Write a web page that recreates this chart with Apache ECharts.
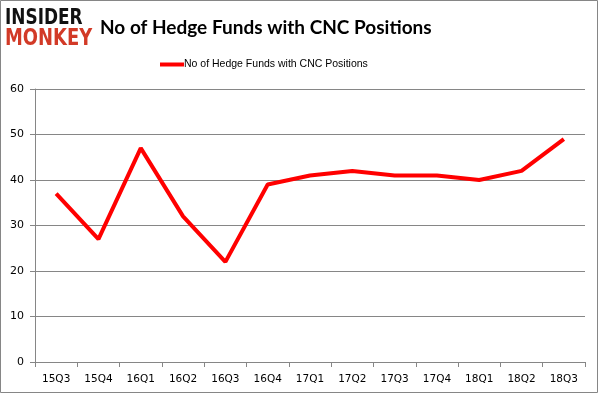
<!DOCTYPE html>
<html><head><meta charset="utf-8">
<script src="https://cdn.jsdelivr.net/npm/echarts@6/dist/echarts.min.js"></script>
<style>html,body{margin:0;padding:0;background:#fff;}#c{width:601px;height:395px;}</style>
</head><body><div id="c"></div>
<script>
const categories = ['15Q3','15Q4','16Q1','16Q2','16Q3','16Q4','17Q1','17Q2','17Q3','17Q4','18Q1','18Q2','18Q3'];
const hedgeFunds = [37, 27, 47, 32, 22, 39, 41, 42, 41, 41, 40, 42, 49];
const seriesName = 'No of Hedge Funds with CNC Positions';
const titleText = 'No of Hedge Funds with CNC Positions';

const chart = echarts.init(document.getElementById('c'), null, {renderer: 'canvas'});
chart.setOption({
  animation: false,
  backgroundColor: '#fff',
  title: {
    text: titleText, left: 95, top: 13,
    textStyle: {fontFamily: 'Lato', fontWeight: 'bold', fontSize: 19, color: '#000'}
  },
  legend: {
    data: [seriesName], top: 54, left: 155,
    itemWidth: 24, itemHeight: 4, itemGap: 0,
    icon: 'rect',
    textStyle: {fontFamily: 'Liberation Sans', fontSize: 10.5, color: '#000', padding: [0,0,0,-5]}
  },
  grid: {left: 35, right: 16, top: 89, bottom: 33, containLabel: false},
  xAxis: {
    type: 'category', data: categories, boundaryGap: true,
    axisLine: {lineStyle: {color: '#868686', width: 1}},
    axisTick: {show: true, length: 5, lineStyle: {color: '#868686'}},
    axisLabel: {fontFamily: 'DejaVu Sans', fontSize: 10.5, color: '#000', margin: 12}
  },
  yAxis: {
    type: 'value', min: 0, max: 60, interval: 10,
    axisLine: {show: true, lineStyle: {color: '#868686'}},
    axisTick: {show: true, length: 5, lineStyle: {color: '#868686'}},
    splitLine: {lineStyle: {color: '#868686', width: 1}},
    axisLabel: {fontFamily: 'DejaVu Sans', fontSize: 11, color: '#000', margin: 11}
  },
  graphic: [
    {type: 'rect', shape: {x: 0.5, y: 0.5, width: 597, height: 392}, style: {fill: 'none', stroke: '#868686', lineWidth: 1}, silent: true, z: -1},
    {type: 'text', x: 5, y: 7, scaleX: 0.77, style: {text: 'INSIDER', fontFamily: 'DejaVu Sans', fontWeight: 'bold', fontSize: 22, fill: '#111'}},
    {type: 'text', x: 5, y: 28, scaleX: 0.78, style: {text: 'MONKEY', fontFamily: 'DejaVu Sans', fontWeight: 'bold', fontSize: 23, fill: '#d23a27'}}
  ],
  series: [{
    name: seriesName, type: 'line', data: hedgeFunds,
    symbol: 'none', lineStyle: {color: '#ff0000', width: 4},
    itemStyle: {color: '#ff0000'}
  }]
});
</script></body></html>
